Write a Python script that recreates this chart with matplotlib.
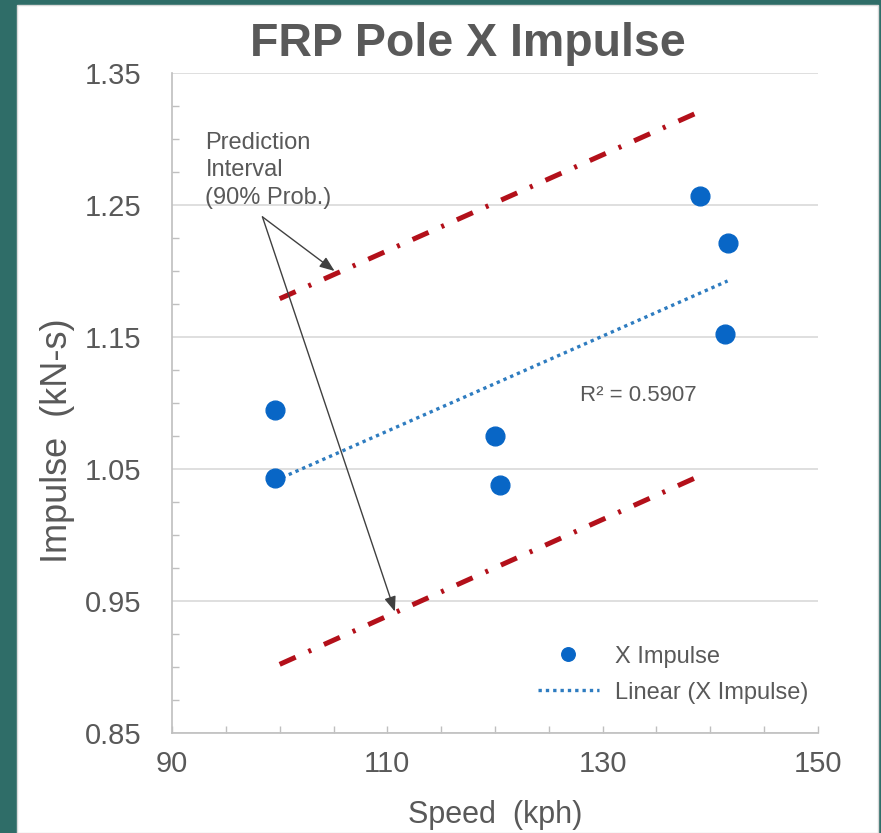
import numpy as np
import matplotlib
matplotlib.use("Agg")
import matplotlib.pyplot as plt
from matplotlib.patches import Rectangle
from matplotlib.ticker import MultipleLocator

plt.rcParams['font.family'] = ['Liberation Sans', 'DejaVu Sans']

# Data
speed = [99.6, 99.6, 120.0, 120.5, 139.0, 141.6, 141.4]
impulse = [1.095, 1.043, 1.075, 1.038, 1.257, 1.221, 1.152]
pi_speed = [100.0, 138.8]
pi_upper = [1.179, 1.320]
pi_lower = [0.902, 1.044]
r2_text = "R² = 0.5907"
title = "FRP Pole X Impulse"
xlabel = "Speed  (kph)"
ylabel = "Impulse  (kN-s)"
xticks = [90, 110, 130, 150]
yticks = [0.85, 0.95, 1.05, 1.15, 1.25, 1.35]

gray = "#595959"
fig = plt.figure(figsize=(8.81, 8.33), dpi=100, facecolor="#2F6D68")
fig.patches.append(Rectangle((17/881, 0), (878-17)/881, (833-5)/833,
                             transform=fig.transFigure, facecolor="white",
                             edgecolor="#d9d9d9", lw=1, zorder=-5))

ax = fig.add_axes([172/881, 1-733/833, (818-172)/881, (733-73)/833])
ax.set_facecolor("none")
ax.set_xlim(90, 150)
ax.set_ylim(0.85, 1.35)

ax.set_yticks(yticks)
ax.set_yticklabels([f"{v:.2f}" for v in yticks])
ax.set_xticks(xticks)
ax.set_xticklabels([str(v) for v in xticks])
ax.yaxis.set_minor_locator(MultipleLocator(0.025))
ax.xaxis.set_minor_locator(MultipleLocator(5))
ax.grid(axis='y', which='major', color="#d9d9d9", lw=1.2, zorder=0)
for s in ['top', 'right']:
    ax.spines[s].set_visible(False)
for s in ['left', 'bottom']:
    ax.spines[s].set_color("#bfbfbf")
    ax.spines[s].set_linewidth(1.2)
ax.tick_params(axis='both', which='both', direction='in', color="#bfbfbf", length=5, width=1)
ax.tick_params(axis='y', which='major', length=0, pad=22, labelsize=21, labelcolor=gray)
ax.tick_params(axis='x', which='major', pad=12, labelsize=21, labelcolor=gray)

# prediction interval lines
pi_dash = (3.5, 2.8, 0.6, 2.8)
ax.plot(pi_speed, pi_upper, color="#B3101A", lw=3.6, dashes=pi_dash, zorder=3)
ax.plot(pi_speed, pi_lower, color="#B3101A", lw=3.6, dashes=pi_dash, zorder=3)

# points
ax.plot(speed, impulse, 'o', color="#0866C6", ms=13.5, ls='none', zorder=5, label="X Impulse")

# linear trend
coef = np.polyfit(speed, impulse, 1)
tx = np.array([min(speed), max(speed)])
ax.plot(tx, np.polyval(coef, tx), color="#2E7CC0", lw=2.4, ls=(0, (1, 1.2)), zorder=4,
        label="Linear (X Impulse)")

ax.text(127.9, 1.1055, r2_text, fontsize=16, color=gray, va='center', ha='left')

# annotation
ax.text(93.1, 1.3055, "Prediction\nInterval\n(90% Prob.)", fontsize=17, color=gray,
        va='top', ha='left', linespacing=1.32, zorder=6)
ap = dict(arrowstyle="-|>,head_length=0.9,head_width=0.35", color="#404040", lw=1,
          shrinkA=0, shrinkB=0)
ax.annotate("", xy=(105.1, 1.200), xytext=(98.4, 1.241), arrowprops=ap, zorder=6)
ax.annotate("", xy=(110.7, 0.942), xytext=(98.4, 1.241), arrowprops=ap, zorder=6)

ax.set_title(title, fontsize=33.5, fontweight='bold', color=gray, pad=12, x=0.458)
ax.set_xlabel(xlabel, fontsize=22, color=gray, labelpad=16)
ax.set_ylabel(ylabel + " ", fontsize=26, color=gray)
ax.yaxis.label.set_va('center')
ax.yaxis.set_label_coords(-0.178, 0.45)

leg = ax.legend(loc='lower right', bbox_to_anchor=(1.0, 0.03), frameon=False, fontsize=17,
                labelcolor=gray, handlelength=2.6, handletextpad=0.68, labelspacing=0.6,
                markerscale=0.72, borderaxespad=0.0)

fig.savefig("out.png", dpi=100, facecolor=fig.get_facecolor())
